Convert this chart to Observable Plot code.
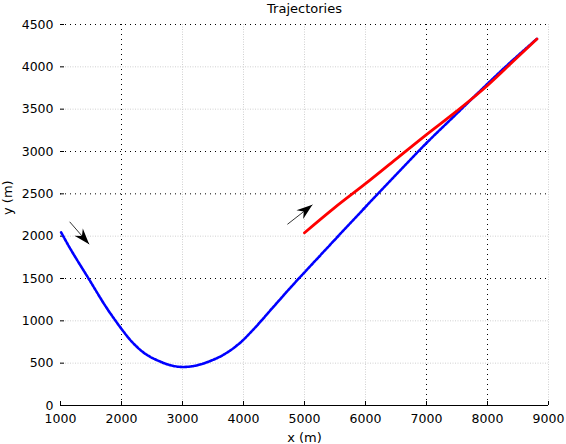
<!DOCTYPE html>
<html><head><meta charset="utf-8">
<script src="https://cdn.jsdelivr.net/npm/d3@7"></script>
<script src="https://cdn.jsdelivr.net/npm/@observablehq/plot@0.6"></script>
<style>body{margin:0;background:#fff;}</style>
</head><body><div id="chart"></div>
<script>
// ---- data ----
const title = "Trajectories";
const xLabel = "x (m)";
const yLabel = "y (m)";
const xTicks = [1000, 2000, 3000, 4000, 5000, 6000, 7000, 8000, 9000];
const yTicks = [0, 500, 1000, 1500, 2000, 2500, 3000, 3500, 4000, 4500];
const gridDarkX = [2000, 7000, 8000];
const gridLightX = [3000, 4000, 5000, 6000, 9000];
const gridDarkY = [1500, 2500, 3000, 4500];
const gridLightY = [500, 1000, 2000, 3500, 4000];

const blueX = [1010, 1170, 1460, 1750, 2000, 2180, 2400, 2670, 2850, 3020, 3200, 3380, 3650, 3920, 4190, 4460, 4730, 4900, 5000, 5500, 6000, 6500, 7000, 7500, 8000, 8400, 8810];
const blueY = [2045, 1840, 1500, 1160, 905, 745, 605, 508, 467, 455, 469, 505, 590, 725, 920, 1140, 1360, 1495, 1572, 1960, 2345, 2725, 3100, 3450, 3800, 4070, 4330];

const redX = [5000, 5500, 6000, 6500, 7000, 7500, 8000, 8400, 8810];
const redY = [2040, 2340, 2620, 2910, 3200, 3480, 3780, 4050, 4330];

const arrowX1 = [1150, 4720];
const arrowY1 = [2170, 2140];
const arrowX2 = [1470, 5130];
const arrowY2 = [1905, 2370];

// ---- layout ----
const W = 566, H = 444, mt = 24, mb = 39, ml = 60, mr = 18;
const xDomain = [1000, 9000], yDomain = [0, 4500];
const kx = (W - ml - mr) / (xDomain[1] - xDomain[0]);
const ky = (H - mt - mb) / (yDomain[1] - yDomain[0]);
const frameW = W - ml - mr, frameH = H - mt - mb;

const blue = blueX.map((x, i) => ({x, y: blueY[i]}));
const red = redX.map((x, i) => ({x, y: redY[i]}));
const arrows = arrowX1.map((x1, i) => ({
  x1, y1: arrowY1[i], x2: arrowX2[i], y2: arrowY2[i],
  rot: Math.atan2((arrowX2[i] - x1) * kx, (arrowY2[i] - arrowY1[i]) * ky) * 180 / Math.PI
}));

const arrowHead = {
  draw(ctx, size) {
    const s = Math.sqrt(size / Math.PI) / 7;
    ctx.moveTo(0, 0);
    ctx.lineTo(5.5 * s, 16 * s);
    ctx.lineTo(0, 11 * s);
    ctx.lineTo(-5.5 * s, 16 * s);
    ctx.closePath();
  }
};

const fmt = d => String(d);

const chart = Plot.plot({
  width: W, height: H,
  marginTop: mt, marginBottom: mb, marginLeft: ml, marginRight: mr,
  style: {fontFamily: "'DejaVu Sans', sans-serif", fontSize: "12.5px", background: "#fff", color: "#000", overflow: "visible"},
  x: {domain: xDomain},
  y: {domain: yDomain},
  marks: [
    Plot.ruleX(gridLightX, {stroke: "#d0d0d0", strokeWidth: 1, strokeDasharray: "1,1.5"}),
    Plot.ruleY(gridLightY, {stroke: "#d0d0d0", strokeWidth: 1, strokeDasharray: "1,1.5"}),
    Plot.ruleX(gridDarkX, {stroke: "#000", strokeWidth: 1, strokeDasharray: "1,4"}),
    Plot.ruleY(gridDarkY, {stroke: "#000", strokeWidth: 1, strokeDasharray: "1,4"}),
    Plot.ruleY([0], {stroke: "#000", strokeWidth: 1}),
    Plot.tickX(xTicks, {x: d => d, stroke: "#000", insetTop: frameH - 4}),
    Plot.tickY(yTicks, {y: d => d, stroke: "#000", insetRight: frameW - 4}),
    Plot.axisX({ticks: xTicks, tickSize: 0, tickPadding: 9, tickFormat: fmt, label: null}),
    Plot.axisY({ticks: yTicks, tickSize: 0, tickPadding: 7, tickFormat: fmt, label: null}),
    Plot.line(blue, {x: "x", y: "y", stroke: "#0000ff", strokeWidth: 2.6, strokeDasharray: "2.4,1.4", curve: "catmull-rom"}),
    Plot.line(red, {x: "x", y: "y", stroke: "#ff0000", strokeWidth: 2.8, curve: "monotone-x"}),
    Plot.link(arrows, {x1: "x1", y1: "y1", x2: "x2", y2: "y2", stroke: "#000", strokeWidth: 0.8}),
    Plot.dot(arrows, {x: "x2", y: "y2", rotate: "rot", symbol: arrowHead, r: 7, fill: "#000", stroke: "none"}),
    Plot.text([title], {frameAnchor: "top", dy: -16, fontSize: 13, lineAnchor: "middle"}),
    Plot.text([xLabel], {frameAnchor: "bottom", dy: 32, fontSize: 13, lineAnchor: "middle"}),
    Plot.text([yLabel], {frameAnchor: "left", dx: -53, rotate: -90, fontSize: 13, lineAnchor: "middle"})
  ]
});
document.getElementById("chart").appendChild(chart);
</script>
</body></html>
